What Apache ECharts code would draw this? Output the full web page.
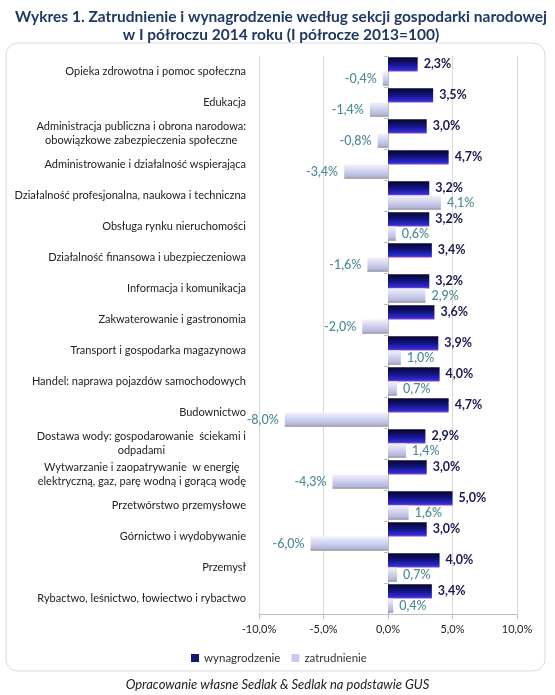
<!DOCTYPE html>
<html>
<head>
<meta charset="utf-8">
<script src="https://cdn.jsdelivr.net/npm/echarts@6/dist/echarts.min.js"></script>
<style>
  html, body { margin: 0; padding: 0; background: #fff; }
  #chart { width: 555px; height: 695px; }
</style>
</head>
<body>
<div id="chart"></div>
<script>
// kategorie od góry do dołu
const categories = [
  'Opieka zdrowotna i pomoc społeczna',
  'Edukacja',
  'Administracja publiczna i obrona narodowa:\nobowiązkowe zabezpieczenia społeczne',
  'Administrowanie i działalność wspierająca',
  'Działalność profesjonalna, naukowa i techniczna',
  'Obsługa rynku nieruchomości',
  'Działalność finansowa i ubezpieczeniowa',
  'Informacja i komunikacja',
  'Zakwaterowanie i gastronomia',
  'Transport i gospodarka magazynowa',
  'Handel: naprawa pojazdów samochodowych',
  'Budownictwo',
  'Dostawa wody: gospodarowanie  ściekami i\nodpadami',
  'Wytwarzanie i zaopatrywanie  w energię\nelektryczną, gaz, parę wodną i gorącą wodę',
  'Przetwórstwo przemysłowe',
  'Górnictwo i wydobywanie',
  'Przemysł',
  'Rybactwo, leśnictwo, łowiectwo i rybactwo'
];
const wynagrodzenie = [2.3, 3.5, 3.0, 4.7, 3.2, 3.2, 3.4, 3.2, 3.6, 3.9, 4.0, 4.7, 2.9, 3.0, 5.0, 3.0, 4.0, 3.4];
const zatrudnienie = [-0.4, -1.4, -0.8, -3.4, 4.1, 0.6, -1.6, 2.9, -2.0, 1.0, 0.7, -8.0, 1.4, -4.3, 1.6, -6.0, 0.7, 0.4];
const xTicks = [-10, -5, 0, 5, 10];

const pct = v => v.toFixed(1).replace('.', ',') + '%';
const FONT = 'Lato';

const chart = echarts.init(document.getElementById('chart'), null, { renderer: 'canvas' });

const option = {
  backgroundColor: '#ffffff',
  animation: false,
  title: {
    text: 'Wykres 1. Zatrudnienie i wynagrodzenie według sekcji gospodarki narodowej\nw I półroczu 2014 roku (I półrocze 2013=100)',
    left: 276,
    top: 3,
    textAlign: 'center',
    textStyle: {
      fontFamily: FONT, fontSize: 15.5, fontWeight: 'bold', color: '#1f3864', lineHeight: 18
    }
  },
  graphic: [
    {
      type: 'rect', z: -10,
      shape: { x: 6, y: 43, width: 539, height: 628, r: 12 },
      style: { fill: '#fff', stroke: '#d9d9d9', lineWidth: 1 }
    },
    {
      type: 'text', left: 'center', top: 678,
      style: {
        text: 'Opracowanie własne Sedlak & Sedlak na podstawie GUS',
        fontFamily: FONT, fontSize: 13, fontStyle: 'italic', fill: '#222'
      }
    }
  ],
  legend: {
    left: 186, top: 647,
    itemWidth: 8, itemHeight: 8, itemGap: 11,
    icon: 'rect',
    textStyle: { fontFamily: FONT, fontSize: 11.5, color: '#333' },
    data: [
      { name: 'wynagrodzenie', itemStyle: { color: '#16166e' } },
      { name: 'zatrudnienie', itemStyle: { color: '#c9cbea' } }
    ]
  },
  grid: { left: 259, right: 38, top: 56, bottom: 81 },
  xAxis: {
    type: 'value',
    min: xTicks[0], max: xTicks[xTicks.length - 1], interval: 5,
    axisLine: { show: true, lineStyle: { color: '#bfbfbf' } },
    axisTick: { show: true, length: 5, lineStyle: { color: '#bfbfbf' } },
    splitLine: { show: true, lineStyle: { color: '#d9d9d9' } },
    axisLabel: {
      formatter: v => pct(v), margin: 10,
      fontFamily: FONT, fontSize: 11, color: '#222'
    }
  },
  yAxis: [
    {
      type: 'category', data: categories, inverse: true,
      axisLine: { show: false, onZero: false },
      axisTick: { show: false },
      axisLabel: {
        margin: 13, fontFamily: FONT, fontSize: 11, color: '#222', lineHeight: 14,
        formatter: v => '{c|' + v + '}',
        rich: { c: { align: 'center', fontFamily: FONT, fontSize: 11, color: '#222', lineHeight: 14 } }
      }
    },
    {
      type: 'category', data: categories, inverse: true, position: 'left',
      axisLine: { show: true, onZero: true, lineStyle: { color: '#bfbfbf' } },
      axisTick: { show: true, length: 4, lineStyle: { color: '#bfbfbf' } },
      axisLabel: { show: false }
    }
  ],
  series: [
    {
      name: 'wynagrodzenie', type: 'bar', data: wynagrodzenie,
      barGap: 0, barCategoryGap: '8%',
      itemStyle: {
        color: new echarts.graphic.LinearGradient(0, 0, 0, 1, [
          { offset: 0, color: '#06062e' },
          { offset: 0.45, color: '#12127c' },
          { offset: 0.85, color: '#2a2ad0' },
          { offset: 1, color: '#8a44c8' }
        ])
      },
      label: {
        show: true, position: 'right', distance: 6,
        formatter: p => pct(p.value),
        fontFamily: FONT, fontSize: 12.5, fontWeight: 'bold', color: '#1a1a4e'
      }
    },
    {
      name: 'zatrudnienie', type: 'bar', data: zatrudnienie,
      barGap: 0, barCategoryGap: '8%',
      itemStyle: {
        color: new echarts.graphic.LinearGradient(0, 0, 0, 1, [
          { offset: 0, color: '#f2f2fb' },
          { offset: 0.6, color: '#c6c8ea' },
          { offset: 0.85, color: '#b4b6d8' },
          { offset: 1, color: '#8e8e9a' }
        ])
      },
      label: {
        show: true, distance: 6,
        position: 'right',
        formatter: p => pct(p.value),
        fontFamily: FONT, fontSize: 12.5, fontWeight: 500, color: '#4a8a94'
      }
    }
  ]
};

// etykiety ujemnych słupków po lewej stronie
option.series[1].data = zatrudnienie.map(v => ({
  value: v,
  label: { position: v < 0 ? 'left' : 'right' }
}));

chart.setOption(option);
</script>
</body>
</html>
